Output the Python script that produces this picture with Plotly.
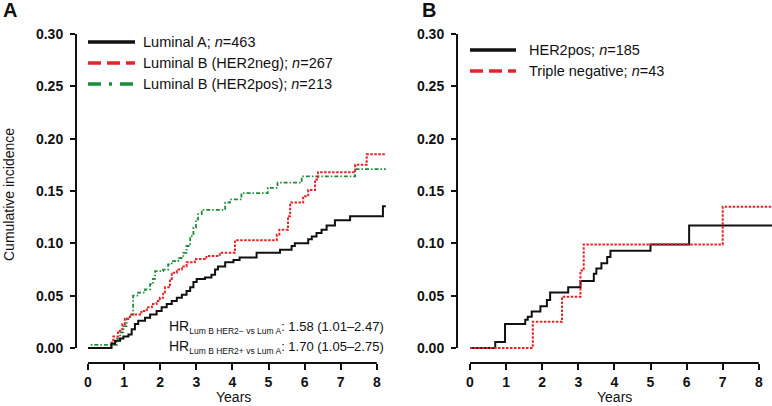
import plotly.graph_objects as go

W, H = 772, 406

# ---------------- data ----------------
# Panel A
lumA_t = [0, 0.61, 0.65, 0.75, 0.89, 0.98, 1.12, 1.21, 1.30, 1.39, 1.58, 1.72, 1.90, 2.04, 2.18, 2.32,
          2.46, 2.60, 2.73, 2.83, 2.92, 3.01, 3.24, 3.42, 3.52, 3.60, 3.80, 4.03, 4.20, 4.67, 5.32, 5.64,
          5.73, 6.10, 6.20, 6.33, 6.47, 6.61, 6.84, 7.26, 8.17, 8.25]
lumA_v = [0, 0.0, 0.004, 0.007, 0.009, 0.011, 0.013, 0.018, 0.023, 0.026, 0.029, 0.032, 0.0355, 0.039,
          0.042, 0.045, 0.048, 0.051, 0.0545, 0.058, 0.063, 0.066, 0.0675, 0.070, 0.075, 0.078, 0.082,
          0.084, 0.0865, 0.091, 0.094, 0.0975, 0.100, 0.104, 0.1065, 0.110, 0.113, 0.117, 0.122, 0.126,
          0.1355, 0.1355]

lumBneg_t = [0, 0.65, 0.70, 0.83, 0.95, 1.02, 1.16, 1.48, 1.63, 1.77, 1.90, 1.99, 2.08, 2.13, 2.27, 2.32,
             2.46, 2.60, 2.73, 2.96, 3.28, 3.65, 4.07, 5.23, 5.30, 5.54, 5.60, 5.96, 6.10, 6.29, 6.37,
             7.40, 7.72, 8.25]
lumBneg_v = [0, 0.005, 0.011, 0.0165, 0.023, 0.028, 0.032, 0.0355, 0.039, 0.042, 0.045, 0.048, 0.053,
             0.058, 0.066, 0.072, 0.075, 0.078, 0.082, 0.085, 0.088, 0.091, 0.103, 0.1085, 0.113, 0.126,
             0.139, 0.145, 0.151, 0.161, 0.168, 0.175, 0.185, 0.185]

lumBpos_t = [0, 0.10, 0.80, 0.89, 0.98, 1.07, 1.16, 1.25, 1.39, 1.58, 1.72, 1.80, 1.86, 2.08, 2.22, 2.32,
             2.50, 2.64, 2.73, 2.83, 2.92, 2.99, 3.05, 3.15, 3.80, 3.93, 4.25, 4.98, 5.25, 5.92, 7.40, 8.25]
lumBpos_v = [0, 0.003, 0.009, 0.015, 0.021, 0.028, 0.032, 0.050, 0.053, 0.056, 0.061, 0.066, 0.0735,
             0.075, 0.080, 0.083, 0.086, 0.091, 0.0975, 0.107, 0.115, 0.123, 0.128, 0.132, 0.139, 0.142,
             0.148, 0.153, 0.158, 0.164, 0.171, 0.171]

# Panel B
her2_t = [0, 0.70, 0.97, 1.53, 1.60, 1.71, 1.95, 2.13, 2.22, 2.72, 3.06, 3.43, 3.50, 3.64, 3.80, 3.89,
          5.00, 6.07, 8.40]
her2_v = [0, 0.0058, 0.023, 0.027, 0.030, 0.035, 0.040, 0.046, 0.053, 0.058, 0.064, 0.071, 0.076, 0.081,
          0.087, 0.093, 0.099, 0.117, 0.117]

tn_t = [0, 1.74, 2.55, 3.06, 3.15, 7.00, 8.40]
tn_v = [0, 0.025, 0.049, 0.074, 0.099, 0.135, 0.135]

x_ticks = [0, 1, 2, 3, 4, 5, 6, 7, 8]
y_ticks = [0.0, 0.05, 0.10, 0.15, 0.20, 0.25, 0.30]
y_tick_labels = ["0.00", "0.05", "0.10", "0.15", "0.20", "0.25", "0.30"]

legendA = ["Luminal A; <i>n</i>=463", "Luminal B (HER2neg); <i>n</i>=267", "Luminal B (HER2pos); <i>n</i>=213"]
legendB = ["HER2pos; <i>n</i>=185", "Triple negative; <i>n</i>=43"]

hr_lines = [
    ("Lum B HER2\u2212 vs Lum A", "1.58 (1.01\u20132.47)"),
    ("Lum B HER2+ vs Lum A", "1.70 (1.05\u20132.75)"),
]

# ---------------- styling ----------------
FONT = "Liberation Sans, Arial, Helvetica, sans-serif"
BLACK = "#111111"
RED = "#e3242b"
GREEN = "#1c8c3c"

def px_x(p):
    return p / W

def px_y(p):
    return 1 - p / H

fig = go.Figure()

def step(t, v, color, dash, width, xa, ya):
    fig.add_trace(go.Scatter(x=t, y=v, mode="lines", line=dict(shape="hv", color=color, dash=dash, width=width),
                             xaxis=xa, yaxis=ya, showlegend=False, hoverinfo="skip"))

step(lumBpos_t, lumBpos_v, GREEN, "4px,2px,1.5px,2px", 1.8, "x", "y")
step(lumBneg_t, lumBneg_v, RED, "2.5px,1.5px", 2.0, "x", "y")
step(lumA_t, lumA_v, BLACK, "solid", 2.0, "x", "y")
step(her2_t, her2_v, BLACK, "solid", 2.0, "x2", "y2")
step(tn_t, tn_v, RED, "2.5px,1.5px", 2.0, "x2", "y2")

# domains (pixel-derived)
PPY = 1050.0   # pixels per unit of incidence
PPX = 36.1     # pixels per year
ydom = [px_y(363), px_y(29)]
yrange = [-15 / PPY, 0.30 + 5 / PPY]
xdomA = [px_x(76), px_x(387)]
xrangeA = [-12 / PPX, (387 - 88) / PPX]
xdomB = [px_x(457), 1.0]
xrangeB = [-13 / PPX, (772 - 470) / PPX]

tickfont = dict(family=FONT, size=14, color="#111", weight="bold")
common_x = dict(tickvals=x_ticks, ticks="outside", ticklen=6, tickwidth=2, tickcolor=BLACK,
                showgrid=False, zeroline=False, showline=False, tickfont=tickfont, automargin=False)
common_y = dict(tickvals=y_ticks, ticktext=y_tick_labels, ticks="outside", ticklen=5, tickwidth=2,
                tickcolor=BLACK, showgrid=False, zeroline=False, showline=False, tickfont=tickfont,
                range=yrange, domain=ydom, automargin=False, ticklabelstandoff=4)

fig.update_layout(
    width=W, height=H, autosize=False,
    margin=dict(l=0, r=0, t=0, b=0, pad=0),
    paper_bgcolor="white", plot_bgcolor="white",
    font=dict(family=FONT, color="#111"),
    xaxis=dict(domain=xdomA, range=xrangeA, anchor="y", **common_x),
    yaxis=dict(anchor="x", **common_y),
    xaxis2=dict(domain=xdomB, range=xrangeB, anchor="y2", **common_x),
    yaxis2=dict(anchor="x2", **common_y),
    showlegend=False,
)

# axis lines (R-style detached axes)
for xr, yr in (("x", "y"), ("x2", "y2")):
    fig.add_shape(type="line", xref=xr, yref=yr + " domain", x0=0, x1=8, y0=0, y1=0,
                  line=dict(color=BLACK, width=2))
    fig.add_shape(type="line", xref=xr + " domain", yref=yr, x0=0, x1=0, y0=0, y1=0.30,
                  line=dict(color=BLACK, width=2))

# legends (manual)
def legend_row(x0, x1, y, color, dash, label, tx):
    fig.add_shape(type="line", xref="paper", yref="paper", x0=px_x(x0), x1=px_x(x1), y0=px_y(y), y1=px_y(y),
                  line=dict(color=color, dash=dash, width=3.5))
    fig.add_annotation(xref="paper", yref="paper", x=px_x(tx), y=px_y(y), text=label, showarrow=False,
                       xanchor="left", yanchor="middle", font=dict(family=FONT, size=14.5, color="#111"))

legend_row(88, 135, 42, BLACK, "solid", legendA[0], 141)
legend_row(88, 135, 63, RED, "13px,6px", legendA[1], 141)
legend_row(88, 135, 84, GREEN, "13px,8px,3px,8px", legendA[2], 141)
legend_row(470, 516, 50, BLACK, "solid", legendB[0], 527)
legend_row(470, 516, 71, RED, "13px,6px", legendB[1], 527)

# HR annotations
for i, (sub, val) in enumerate(hr_lines):
    txt = ("HR<sub><span style='font-size:8.5px'>" + sub + "</span></sub>"
           "<span style='font-size:13px'>: " + val + "</span>")
    fig.add_annotation(xref="paper", yref="paper", x=px_x(167), y=px_y(327 + 20 * i), text=txt,
                       showarrow=False, xanchor="left", yanchor="middle",
                       font=dict(family=FONT, size=14, color="#111"))

# axis titles
fig.add_annotation(xref="paper", yref="paper", x=px_x(9), y=px_y(195), text="Cumulative incidence",
                   textangle=-90, showarrow=False, xanchor="center", yanchor="middle",
                   font=dict(family=FONT, size=14, color="#111"))
for cx in (233, 614):
    fig.add_annotation(xref="paper", yref="paper", x=px_x(cx), y=px_y(397), text="Years",
                       showarrow=False, xanchor="center", yanchor="middle",
                       font=dict(family=FONT, size=14, color="#111"))

# panel letters
for lx, lt in ((1, "A"), (420, "B")):
    fig.add_annotation(xref="paper", yref="paper", x=px_x(lx), y=px_y(10), text="<b>" + lt + "</b>",
                       showarrow=False, xanchor="left", yanchor="middle",
                       font=dict(family=FONT, size=20, color="#111"))

fig.write_html("out.html", config={"displayModeBar": False},
               post_script="document.body.style.margin='0';document.body.style.padding='0';")
